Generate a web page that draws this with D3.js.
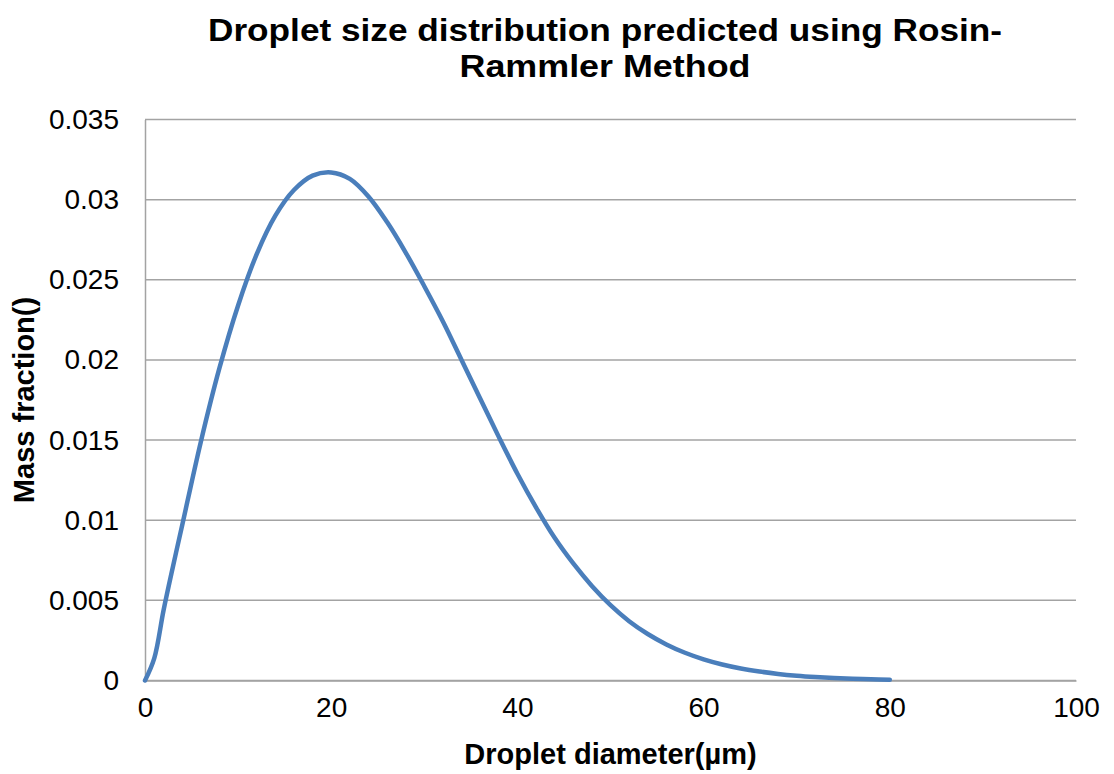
<!DOCTYPE html>
<html>
<head>
<meta charset="utf-8">
<script src="https://cdn.jsdelivr.net/npm/d3@7"></script>
<style>
  html, body { margin: 0; padding: 0; background: #ffffff; }
  svg { display: block; font-family: "Liberation Sans", Arial, sans-serif; }
</style>
</head>
<body>
<svg id="chart" width="1114" height="774"></svg>
<script>
// Rosin-Rammler mass fraction per droplet diameter (µm)
const diameters = [0, 1, 2, 3, 4, 6, 8, 10, 12, 14, 16, 18, 20, 22, 24, 26, 28, 30, 32, 34, 36, 38, 40,
  42, 44, 46, 48, 50, 52, 54, 56, 58, 60, 62, 64, 66, 68, 70, 72, 74, 76, 78, 80];
const massFraction = [0, 0.0014, 0.0044, 0.0071, 0.0097, 0.0149, 0.0195, 0.0234, 0.0266, 0.0290,
  0.0306, 0.0315, 0.0317, 0.0313, 0.0302, 0.0286, 0.0267, 0.0246, 0.0224, 0.0200, 0.0176, 0.0152,
  0.0129, 0.0108, 0.0089, 0.0073, 0.0059, 0.0047, 0.0037, 0.0029, 0.00225, 0.00173, 0.00132,
  0.00100, 0.00075, 0.00056, 0.00041, 0.00030, 0.00022, 0.00016, 0.00011, 0.00008, 0.00005];

const xTicks = [0, 20, 40, 60, 80, 100];
const yTicks = [0, 0.005, 0.01, 0.015, 0.02, 0.025, 0.03, 0.035];
const yTickLabels = ["0", "0.005", "0.01", "0.015", "0.02", "0.025", "0.03", "0.035"];

const titleLines = ["Droplet size distribution predicted using Rosin-", "Rammler Method"];
const xTitle = "Droplet diameter(\u00b5m)";
const yTitle = "Mass fraction()";

const svg = d3.select("#chart");
const plot = { left: 145, right: 1076, top: 119.5, bottom: 680.5 };

const x = d3.scaleLinear().domain([0, 100]).range([plot.left, plot.right]);
const y = d3.scaleLinear().domain([0, 0.035]).range([plot.bottom, plot.top]);

const gridColor = "#a3a3a3";

// horizontal gridlines
svg.append("g")
  .selectAll("line")
  .data(yTicks)
  .join("line")
  .attr("x1", plot.left)
  .attr("x2", plot.right)
  .attr("y1", d => y(d))
  .attr("y2", d => y(d))
  .attr("stroke", gridColor)
  .attr("stroke-width", 1.5);

// y axis (labels only, vertical axis line)
const yAxis = d3.axisLeft(y)
  .tickValues(yTicks)
  .tickSize(0)
  .tickPadding(26)
  .tickFormat((d, i) => yTickLabels[i]);
const gy = svg.append("g").attr("transform", `translate(${plot.left},0)`).call(yAxis);
gy.select(".domain").attr("stroke", gridColor).attr("stroke-width", 1.5);
gy.selectAll("text")
  .attr("font-size", 28)
  .attr("font-family", "Liberation Sans, Arial, sans-serif")
  .attr("fill", "#000");

// x axis
const xAxis = d3.axisBottom(x)
  .tickValues(xTicks)
  .tickSize(0)
  .tickPadding(17)
  .tickFormat(d3.format("d"));
const gx = svg.append("g").attr("transform", `translate(0,${plot.bottom})`).call(xAxis);
gx.select(".domain").attr("stroke", gridColor).attr("stroke-width", 1.5);
gx.selectAll("text")
  .attr("font-size", 28)
  .attr("font-family", "Liberation Sans, Arial, sans-serif")
  .attr("fill", "#000");

// distribution curve
const line = d3.line()
  .x((d, i) => x(diameters[i]))
  .y(d => y(d))
  .curve(d3.curveCatmullRom.alpha(0.5));

svg.append("path")
  .datum(massFraction)
  .attr("d", line)
  .attr("fill", "none")
  .attr("stroke", "#4a7ebb")
  .attr("stroke-width", 4.5)
  .attr("stroke-linejoin", "round")
  .attr("stroke-linecap", "round");

// title (two lines, bold, slightly widened)
const titleWidths = [794, 291];
svg.append("g")
  .selectAll("text")
  .data(titleLines)
  .join("text")
  .attr("x", 605)
  .attr("y", (d, i) => 41 + i * 36)
  .attr("text-anchor", "middle")
  .attr("font-size", 31)
  .attr("font-weight", "bold")
  .attr("textLength", (d, i) => titleWidths[i])
  .attr("lengthAdjust", "spacingAndGlyphs")
  .attr("fill", "#000")
  .text(d => d);

// axis titles
svg.append("text")
  .attr("x", x(50))
  .attr("y", 764)
  .attr("text-anchor", "middle")
  .attr("font-size", 29)
  .attr("font-weight", "bold")
  .attr("fill", "#000")
  .text(xTitle);

svg.append("text")
  .attr("transform", "translate(34,400) rotate(-90)")
  .attr("text-anchor", "middle")
  .attr("font-size", 29)
  .attr("font-weight", "bold")
  .attr("fill", "#000")
  .text(yTitle);
</script>
</body>
</html>
